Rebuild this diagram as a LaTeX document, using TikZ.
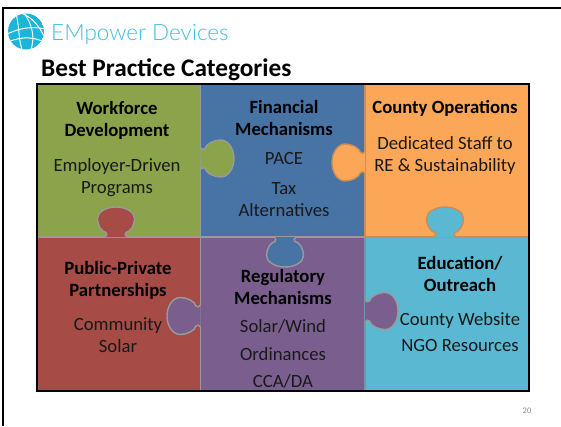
\documentclass[tikz,border=0pt]{standalone}
\usepackage{fontspec}
\setmainfont{Carlito}
\newfontfamily\logofont{Lato Light}
\definecolor{color1}{RGB}{139,164,76}
\definecolor{color2}{RGB}{71,115,165}
\definecolor{color3}{RGB}{251,167,87}
\definecolor{color4}{RGB}{166,75,69}
\definecolor{color5}{RGB}{122,95,142}
\definecolor{color6}{RGB}{90,184,211}
\definecolor{edgegray}{RGB}{154,154,154}
\definecolor{edgetan}{RGB}{200,142,85}
\definecolor{edgeblue}{RGB}{125,145,170}
\definecolor{logoblue}{RGB}{28,181,218}
\def\edgethickness{1.4pt}
\tikzset{
    head/.style={font=\fontsize{18.7}{22}\selectfont\bfseries, align=center, inner sep=0pt, text=black},
    body/.style={font=\fontsize{18.7}{22}\selectfont, align=center, inner sep=0pt, text=black!90},
}
% x, y, angle, length, fill, edge
\newcommand{\puzzleknob}[6]{
    \pgfmathsetmacro{\knobmid}{(#4+5)/2+1}
    \pgfmathsetmacro{\knobout}{\knobmid+0.55*(#4-\knobmid)}
    \draw[shift={(#1, #2)}, rotate=#3, fill=#5, draw=#6, line width=\edgethickness]
        (0, -11) .. controls (1.5, -9) and (3, -8.5) .. (4.5, -10)
        .. controls (5.5, -14.5) and ({\knobmid-7}, -18.5) .. (\knobmid, -18.5)
        .. controls (\knobout, -18.5) and (#4, -10.2) .. (#4, 0)
        .. controls (#4, 10.2) and (\knobout, 18.5) .. (\knobmid, 18.5)
        .. controls ({\knobmid-7}, 18.5) and (5.5, 14.5) .. (4.5, 10)
        .. controls (3, 8.5) and (1.5, 9) .. (0, 11);
}
\begin{document}
\begin{tikzpicture}[x=1pt, y=-1pt]
    \useasboundingbox (0, 0) rectangle (561, 426);
    \fill[white] (0, 0) rectangle (561, 426);
    \draw[black, line width=2pt] (3, 426) -- (3, 8) -- (561, 8);

    % logo
    \begin{scope}
        \clip (26, 31.5) circle (18);
        \fill[logoblue] (26, 31.5) circle (18);
        \draw[white, line width=1pt] (16, 13) .. controls (20, 30) and (18, 40) .. (23, 52);
        \draw[white, line width=1pt] (21, 13) .. controls (34, 18) and (40, 28) .. (45, 38);
        \draw[white, line width=1pt] (7, 34) .. controls (20, 28) and (32, 26) .. (45, 29);
        \draw[white, line width=1pt] (8, 42) .. controls (22, 36) and (34, 37) .. (44, 42);
        \draw[white, line width=1pt] (30, 52) .. controls (36, 38) and (32, 24) .. (24, 13);
    \end{scope}
    \node[anchor=west, inner sep=0pt, text=logoblue!85, font=\logofont\fontsize{22.5}{23}\selectfont] (brand) at (51, 34.5) {EMpower Devices};
    \node[anchor=west, inner sep=0pt, font=\fontsize{25.3}{25}\selectfont\bfseries] (title) at (41, 70) {Best Practice Categories};

    % pieces
    \fill[color1] (36, 84) rectangle (200.5, 237);
    \fill[color2] (200.5, 84) rectangle (365, 237);
    \fill[color3] (365, 84) rectangle (529, 237);
    \fill[color4] (36, 237) rectangle (200.5, 391);
    \fill[color5] (200.5, 237) rectangle (365, 391);
    \fill[color6] (365, 237) rectangle (529, 391);
    \draw[edgegray, line width=\edgethickness] (200.5, 84) -- (200.5, 391);
    \draw[edgegray, line width=\edgethickness] (36, 237) -- (365, 237);
    \draw[edgeblue, line width=\edgethickness] (365, 237) -- (365, 391);
    \draw[edgetan, line width=\edgethickness] (365, 84) -- (365, 237) -- (529, 237);

    \puzzleknob{200.5}{158.5}{0}{33.5}{color1}{edgegray}
    \puzzleknob{116}{237}{90}{30}{color4}{edgegray}
    \puzzleknob{365}{162.5}{180}{33}{color3}{edgetan}
    \puzzleknob{445}{237}{90}{30}{color6}{edgetan}
    \puzzleknob{200.5}{316}{180}{33.5}{color5}{edgegray}
    \puzzleknob{365}{311}{0}{33}{color5}{edgegray}
    \puzzleknob{285}{237}{-90}{30}{color2}{edgegray}

    \draw[black, line width=2pt] (36.5, 84) rectangle (529, 391);

    \node[head] (workforce) at (117, 120) {Workforce\\Development};
    \node[body] (employer) at (117, 177.5) {Employer-Driven\\Programs};

    \node[head] (financial) at (284, 118) {Financial\\Mechanisms};
    \node[body] (pace) at (284, 158) {PACE};
    \node[body] (tax) at (284, 199.5) {Tax\\Alternatives};

    \node[head] (county) at (445, 108) {County Operations};
    \node[body] (staff) at (445, 156) {Dedicated Staff to\\RE \& Sustainability};

    \node[head] (public) at (118, 280) {Public-Private\\Partnerships};
    \node[body] (community) at (118, 335.5) {Community\\Solar};

    \node[head] (regulatory) at (283, 287) {Regulatory\\Mechanisms};
    \node[body] (solar) at (283, 326) {Solar/Wind};
    \node[body] (ordinances) at (283, 354) {Ordinances};
    \node[body] (cca) at (283, 381) {CCA/DA};

    \node[head] (education) at (460, 274) {Education/\\Outreach};
    \node[body] (website) at (460, 320.5) {County Website};
    \node[body] (ngo) at (460, 345.5) {NGO Resources};

    \node[inner sep=0pt, text=black!45, font=\fontsize{8.5}{9}\selectfont] (page) at (527, 411) {20};
\end{tikzpicture}
\end{document}
